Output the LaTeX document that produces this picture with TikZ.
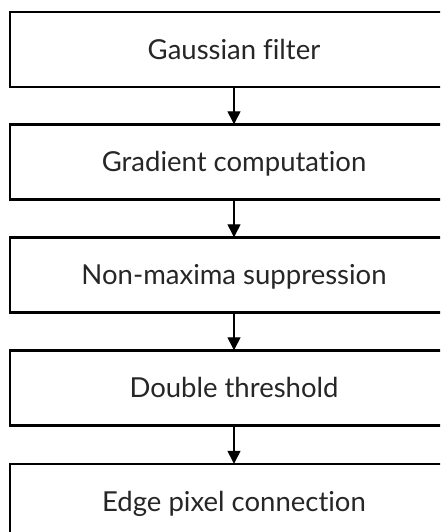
\documentclass[tikz,border=0pt]{standalone}
\usepackage{fontspec}
\setmainfont{Lato}[Ligatures={NoCommon,NoContextual}]
\usetikzlibrary{arrows.meta}
\tikzset{
  stepbox/.style={draw=black, line width=2.4pt, minimum width=448pt, minimum height=75pt, inner sep=0pt, font=\fontsize{27.5}{32}\selectfont, text=black!85, text height=19.7pt, text depth=0pt},
  flowarrow/.style={draw=black, line width=1.3pt, -{Triangle[length=13pt,width=13pt]}, shorten >=-1pt}
}
\begin{document}
\begin{tikzpicture}[x=1pt,y=1pt]
\path[use as bounding box] (0,0) rectangle (440,-532);
\clip (0,0) rectangle (440,-532);
\fill[white] (0,0) rectangle (440,-532);
\node[stepbox] (b1) at (234,-49.5) {Gaussian filter};
\node[stepbox] (b2) at (234,-162) {Gradient computation};
\node[stepbox] (b3) at (234,-275) {Non-maxima suppression};
\node[stepbox] (b4) at (234,-388) {Double threshold};
\node[stepbox] (b5) at (234,-501.5) {Edge pixel connection};
\draw[flowarrow] (b1) -- (b2);
\draw[flowarrow] (b2) -- (b3);
\draw[flowarrow] (b3) -- (b4);
\draw[flowarrow] (b4) -- (b5);
\end{tikzpicture}
\end{document}
